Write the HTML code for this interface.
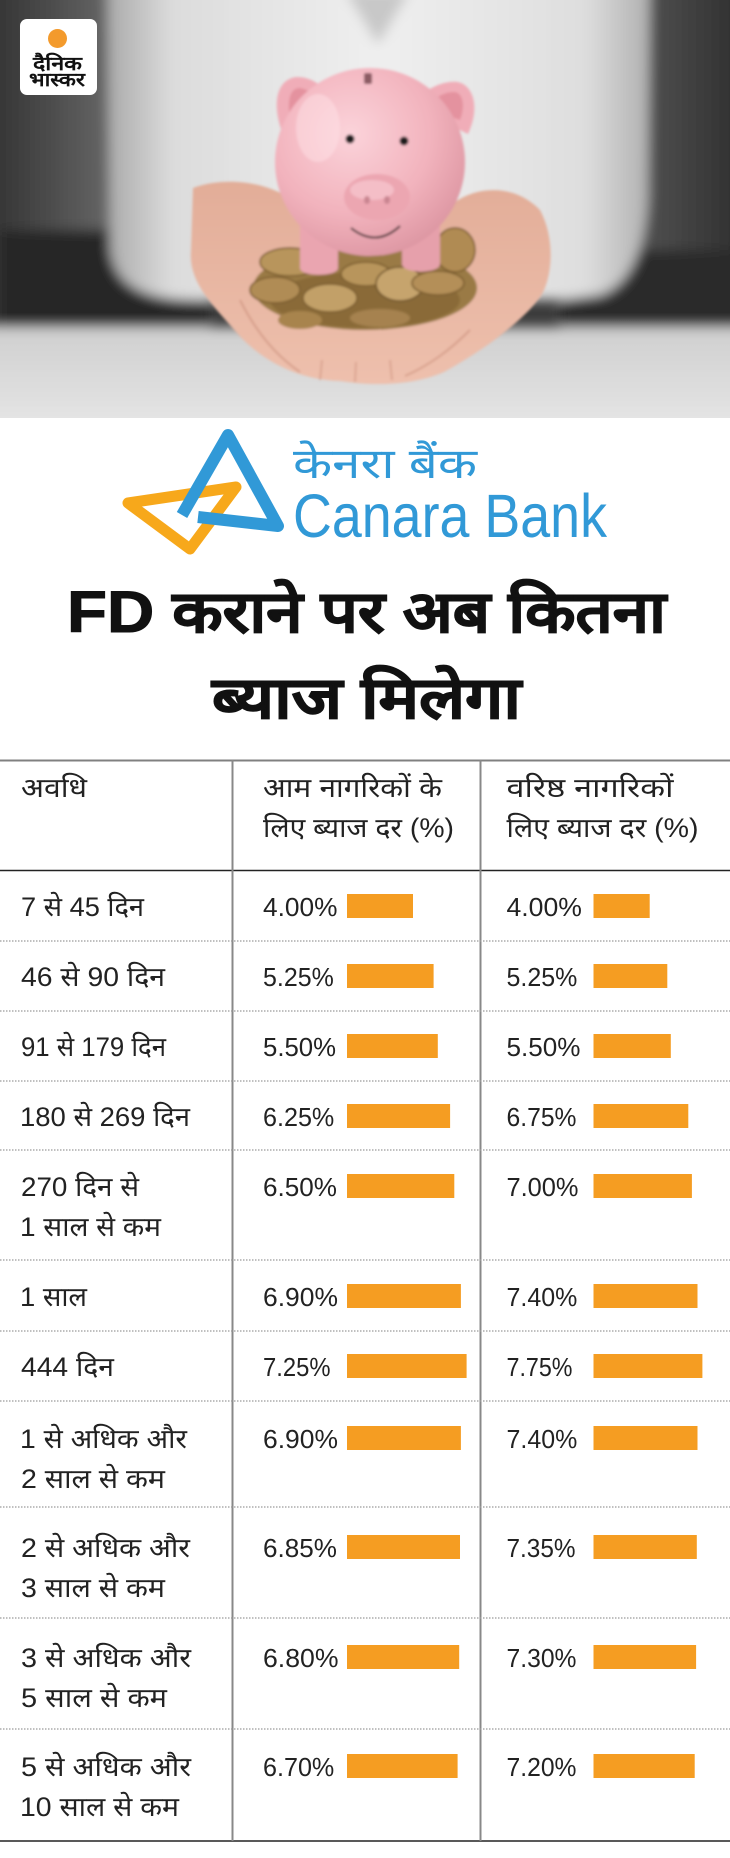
<!DOCTYPE html>
<html><head><meta charset="utf-8"><style>
html,body{margin:0;padding:0;background:#fff;}
svg{display:block;}
text{font-family:"Liberation Sans",sans-serif;}
</style></head><body>
<svg width="730" height="1858" viewBox="0 0 730 1858" xmlns="http://www.w3.org/2000/svg">
<defs>
<linearGradient id="bgL" x1="0" y1="0" x2="1" y2="0">
<stop offset="0" stop-color="#2e2e2e"/><stop offset="1" stop-color="#6a6a6a"/></linearGradient>
<linearGradient id="bgR" x1="0" y1="0" x2="1" y2="0">
<stop offset="0" stop-color="#555"/><stop offset="1" stop-color="#2c2c2c"/></linearGradient>
<linearGradient id="shirt" x1="0" y1="0" x2="1" y2="0">
<stop offset="0" stop-color="#a9a9a9"/><stop offset="0.12" stop-color="#dcdcdc"/><stop offset="0.5" stop-color="#efefef"/><stop offset="0.88" stop-color="#dedede"/><stop offset="1" stop-color="#b0b0b0"/></linearGradient>
<linearGradient id="table" x1="0" y1="0" x2="0" y2="1">
<stop offset="0" stop-color="#cfcfcf"/><stop offset="1" stop-color="#e8e8e8"/></linearGradient>
<linearGradient id="skin" x1="0" y1="0" x2="0" y2="1">
<stop offset="0" stop-color="#e2ad98"/><stop offset="1" stop-color="#eec0ad"/></linearGradient>
<radialGradient id="pig" cx="0.4" cy="0.35" r="0.7">
<stop offset="0" stop-color="#fbd3da"/><stop offset="0.6" stop-color="#f2b3bd"/><stop offset="1" stop-color="#dc95a1"/></radialGradient>
<filter id="bl" x="-5%" y="-5%" width="110%" height="110%"><feGaussianBlur stdDeviation="6"/></filter>
<filter id="bl2"><feGaussianBlur stdDeviation="1.2"/></filter>
<clipPath id="ph"><rect x="0" y="0" width="730" height="418"/></clipPath>
</defs>

<!-- PHOTO -->
<g clip-path="url(#ph)">
<rect x="0" y="0" width="730" height="418" fill="#3a3a3a"/>
<g filter="url(#bl)">
<rect x="-20" y="-20" width="140" height="360" fill="url(#bgL)"/>
<rect x="0" y="230" width="210" height="110" fill="#262626"/>
<rect x="630" y="-20" width="120" height="360" fill="url(#bgR)"/>
<rect x="560" y="250" width="190" height="90" fill="#2b2b2b"/>
<path d="M107,-20 L650,-20 L648,200 C645,250 630,285 600,295 L560,300 L200,300 C150,300 115,290 110,250 Z" fill="url(#shirt)"/>
<path d="M345,-10 L410,-10 L378,45 Z" fill="#c8c8c8"/>
<rect x="-20" y="327" width="770" height="110" fill="url(#table)"/>
</g>
<!-- hands -->
<g filter="url(#bl2)">
<path d="M193,188 C225,176 268,182 292,200 L455,202 C478,186 515,184 540,210 C556,240 552,278 541,296 C522,322 484,350 444,372 C412,386 372,386 340,381 C300,380 262,362 236,332 C212,304 188,282 191,250 Z" fill="url(#skin)"/>
<path d="M240,300 C255,330 275,355 300,372" stroke="#c98c78" stroke-width="2" fill="none" opacity="0.6"/>
<path d="M470,330 C450,350 430,365 405,376" stroke="#c98c78" stroke-width="2" fill="none" opacity="0.6"/>
<path d="M320,380 L322,360 M355,382 L356,362 M392,380 L390,360" stroke="#cf9582" stroke-width="2" fill="none" opacity="0.6"/>
<!-- coins -->
<ellipse cx="365" cy="288" rx="112" ry="42" fill="#9a7a45"/>
<ellipse cx="365" cy="300" rx="95" ry="28" fill="#8a6a38"/>
<ellipse cx="290" cy="262" rx="30" ry="14" fill="#b8955c" stroke="#7a5c2e" stroke-width="1.5"/>
<ellipse cx="275" cy="290" rx="25" ry="13" fill="#b08c55" stroke="#7a5c2e" stroke-width="1.5"/>
<ellipse cx="330" cy="298" rx="27" ry="14" fill="#c2a068" stroke="#7a5c2e" stroke-width="1.5"/>
<ellipse cx="366" cy="274" rx="25" ry="12" fill="#b8955c" stroke="#7a5c2e" stroke-width="1.5"/>
<ellipse cx="400" cy="284" rx="24" ry="17" fill="#c6a46d" stroke="#6f5229" stroke-width="1.5"/>
<ellipse cx="438" cy="283" rx="26" ry="12" fill="#b48f58" stroke="#7a5c2e" stroke-width="1.5"/>
<ellipse cx="455" cy="250" rx="20" ry="22" fill="#b08b52" stroke="#7a5c2e" stroke-width="1.5"/>
<ellipse cx="300" cy="320" rx="22" ry="9" fill="#a8844d"/>
<ellipse cx="380" cy="318" rx="30" ry="9" fill="#a68250"/>
<!-- pig -->
<path d="M282,132 C272,104 276,80 296,77 C316,76 332,94 338,108 Z" fill="#f0adb8"/>
<path d="M290,118 C287,100 290,88 300,88 C312,90 320,100 324,108 Z" fill="#e4929f"/>
<path d="M468,134 C480,108 474,86 458,82 C438,80 420,94 410,106 Z" fill="#f0adb8"/>
<path d="M460,120 C466,104 462,92 454,92 C442,92 432,100 426,108 Z" fill="#e4929f"/>
<path d="M300,222 L338,222 L338,268 C338,277 300,277 300,268 Z" fill="#eaa5b0"/>
<path d="M402,222 L440,222 L440,264 C440,274 402,274 402,264 Z" fill="#e6a0ab"/>
<ellipse cx="370" cy="162" rx="95" ry="94" fill="url(#pig)"/>
<ellipse cx="318" cy="128" rx="22" ry="34" fill="#ffe4e8" opacity="0.45"/>
<rect x="364" y="73" width="8" height="11" rx="2" fill="#8c5c64"/>
<ellipse cx="377" cy="197" rx="33" ry="23" fill="#eca6b1"/>
<ellipse cx="372" cy="190" rx="22" ry="10" fill="#f8c9d0" opacity="0.7"/>
<ellipse cx="367" cy="200" rx="3" ry="4" fill="#c98591"/>
<ellipse cx="387" cy="200" rx="3" ry="4" fill="#c98591"/>
<circle cx="350" cy="139" r="4.5" fill="#1a1a1a"/>
<circle cx="404" cy="141" r="4.5" fill="#1a1a1a"/>
<path d="M351,228 Q376,248 400,226" stroke="#3a2a2a" stroke-width="2" fill="none"/>
</g>
</g>
<!-- Bhaskar logo -->
<rect x="20" y="19" width="77" height="76" rx="7" fill="#fff"/>
<circle cx="57.5" cy="38.5" r="9.5" fill="#f39a2c"/>
<text x="33" y="70" font-size="19" font-weight="700" fill="#111" textLength="49" lengthAdjust="spacingAndGlyphs">दैनिक</text>
<text x="29" y="86" font-size="19" font-weight="700" fill="#111" textLength="56" lengthAdjust="spacingAndGlyphs">भास्कर</text>

<!-- Canara logo -->
<polygon points="128,503 236,487 190,549" fill="none" stroke="#f7a81b" stroke-width="11" stroke-linejoin="round"/>
<path d="M182,515 L228,435 L278,526 L198,517" fill="none" stroke="#3199d7" stroke-width="12" stroke-linejoin="round"/>
<text x="293" y="478" font-size="42" fill="#3199d7" textLength="184" lengthAdjust="spacingAndGlyphs">केनरा बैंक</text>
<text x="293" y="537" font-size="61" fill="#3199d7" textLength="314" lengthAdjust="spacingAndGlyphs">Canara Bank</text>

<!-- Title -->
<text x="67" y="632" font-size="58" font-weight="700" fill="#111" stroke="#111" stroke-width="1" textLength="599" lengthAdjust="spacingAndGlyphs">FD कराने पर अब कितना</text>
<text x="212" y="718" font-size="58" font-weight="700" fill="#111" stroke="#111" stroke-width="1" textLength="309" lengthAdjust="spacingAndGlyphs">ब्याज मिलेगा</text>

<!-- Table lines -->
<line x1="0" y1="760.5" x2="730" y2="760.5" stroke="#808080" stroke-width="2"/>
<line x1="0" y1="870.5" x2="730" y2="870.5" stroke="#222" stroke-width="1.5"/>
<line x1="0" y1="1841" x2="730" y2="1841" stroke="#222" stroke-width="1.5"/>
<line x1="232.5" y1="760" x2="232.5" y2="1841" stroke="#888" stroke-width="2"/>
<line x1="480.5" y1="760" x2="480.5" y2="1841" stroke="#888" stroke-width="2"/>
<g stroke="#9a9a9a" stroke-width="1.2" stroke-dasharray="1.5,1.5">
<line x1="0" y1="941" x2="730" y2="941"/>
<line x1="0" y1="1011" x2="730" y2="1011"/>
<line x1="0" y1="1081" x2="730" y2="1081"/>
<line x1="0" y1="1150" x2="730" y2="1150"/>
<line x1="0" y1="1260" x2="730" y2="1260"/>
<line x1="0" y1="1331" x2="730" y2="1331"/>
<line x1="0" y1="1401" x2="730" y2="1401"/>
<line x1="0" y1="1507" x2="730" y2="1507"/>
<line x1="0" y1="1618" x2="730" y2="1618"/>
<line x1="0" y1="1729" x2="730" y2="1729"/>
</g>

<!-- Header -->
<g font-size="27" fill="#222">
<text x="21" y="797" textLength="66" lengthAdjust="spacingAndGlyphs">अवधि</text>
<text x="263" y="797" textLength="179" lengthAdjust="spacingAndGlyphs">आम नागरिकों के</text>
<text x="263" y="837" textLength="191" lengthAdjust="spacingAndGlyphs">लिए ब्याज दर (%)</text>
<text x="506.5" y="797" textLength="167" lengthAdjust="spacingAndGlyphs">वरिष्ठ नागरिकों</text>
<text x="506.5" y="837" textLength="192" lengthAdjust="spacingAndGlyphs">लिए ब्याज दर (%)</text>
</g>

<!-- Rows -->
<g font-size="27" fill="#222">
<text x="21" y="916" textLength="123" lengthAdjust="spacingAndGlyphs">7 से 45 दिन</text>
<text x="21" y="986" textLength="144" lengthAdjust="spacingAndGlyphs">46 से 90 दिन</text>
<text x="21" y="1056" textLength="145" lengthAdjust="spacingAndGlyphs">91 से 179 दिन</text>
<text x="20" y="1126" textLength="170" lengthAdjust="spacingAndGlyphs">180 से 269 दिन</text>
<text x="21" y="1196" textLength="118" lengthAdjust="spacingAndGlyphs">270 दिन से</text>
<text x="20" y="1236" textLength="141" lengthAdjust="spacingAndGlyphs">1 साल से कम</text>
<text x="20" y="1306" textLength="67" lengthAdjust="spacingAndGlyphs">1 साल</text>
<text x="21" y="1376" textLength="93" lengthAdjust="spacingAndGlyphs">444 दिन</text>
<text x="20" y="1448" textLength="167" lengthAdjust="spacingAndGlyphs">1 से अधिक और</text>
<text x="21" y="1488" textLength="144" lengthAdjust="spacingAndGlyphs">2 साल से कम</text>
<text x="21" y="1557" textLength="169" lengthAdjust="spacingAndGlyphs">2 से अधिक और</text>
<text x="21" y="1597" textLength="144" lengthAdjust="spacingAndGlyphs">3 साल से कम</text>
<text x="21" y="1667" textLength="170" lengthAdjust="spacingAndGlyphs">3 से अधिक और</text>
<text x="21" y="1707" textLength="146" lengthAdjust="spacingAndGlyphs">5 साल से कम</text>
<text x="21" y="1776" textLength="170" lengthAdjust="spacingAndGlyphs">5 से अधिक और</text>
<text x="20" y="1816" textLength="159" lengthAdjust="spacingAndGlyphs">10 साल से कम</text>
</g>

<!-- Percent col2 -->
<g font-size="26" fill="#222">
<text x="263" y="916" textLength="74.5" lengthAdjust="spacingAndGlyphs">4.00%</text>
<text x="263" y="986" textLength="70.8" lengthAdjust="spacingAndGlyphs">5.25%</text>
<text x="263" y="1056" textLength="73" lengthAdjust="spacingAndGlyphs">5.50%</text>
<text x="263" y="1126" textLength="71.3" lengthAdjust="spacingAndGlyphs">6.25%</text>
<text x="263" y="1196" textLength="74" lengthAdjust="spacingAndGlyphs">6.50%</text>
<text x="263" y="1306" textLength="75" lengthAdjust="spacingAndGlyphs">6.90%</text>
<text x="263" y="1376" textLength="67.5" lengthAdjust="spacingAndGlyphs">7.25%</text>
<text x="263" y="1448" textLength="75" lengthAdjust="spacingAndGlyphs">6.90%</text>
<text x="263" y="1557" textLength="74" lengthAdjust="spacingAndGlyphs">6.85%</text>
<text x="263" y="1667" textLength="75.5" lengthAdjust="spacingAndGlyphs">6.80%</text>
<text x="263" y="1776" textLength="71.3" lengthAdjust="spacingAndGlyphs">6.70%</text>
</g>
<!-- Percent col3 -->
<g font-size="26" fill="#222">
<text x="506.5" y="916" textLength="75.4" lengthAdjust="spacingAndGlyphs">4.00%</text>
<text x="506.5" y="986" textLength="70.8" lengthAdjust="spacingAndGlyphs">5.25%</text>
<text x="506.5" y="1056" textLength="74" lengthAdjust="spacingAndGlyphs">5.50%</text>
<text x="506.5" y="1126" textLength="70" lengthAdjust="spacingAndGlyphs">6.75%</text>
<text x="506.5" y="1196" textLength="72" lengthAdjust="spacingAndGlyphs">7.00%</text>
<text x="506.5" y="1306" textLength="70.8" lengthAdjust="spacingAndGlyphs">7.40%</text>
<text x="506.5" y="1376" textLength="66" lengthAdjust="spacingAndGlyphs">7.75%</text>
<text x="506.5" y="1448" textLength="70.8" lengthAdjust="spacingAndGlyphs">7.40%</text>
<text x="506.5" y="1557" textLength="69" lengthAdjust="spacingAndGlyphs">7.35%</text>
<text x="506.5" y="1667" textLength="70" lengthAdjust="spacingAndGlyphs">7.30%</text>
<text x="506.5" y="1776" textLength="70" lengthAdjust="spacingAndGlyphs">7.20%</text>
</g>

<!-- Bars -->
<g fill="#f59d22">
<rect x="347" y="894" width="66" height="24"/>
<rect x="347" y="964" width="86.6" height="24"/>
<rect x="347" y="1034" width="90.8" height="24"/>
<rect x="347" y="1104" width="103.1" height="24"/>
<rect x="347" y="1174" width="107.3" height="24"/>
<rect x="347" y="1284" width="113.9" height="24"/>
<rect x="347" y="1354" width="119.6" height="24"/>
<rect x="347" y="1426" width="113.9" height="24"/>
<rect x="347" y="1535" width="113" height="24"/>
<rect x="347" y="1645" width="112.2" height="24"/>
<rect x="347" y="1754" width="110.6" height="24"/>

<rect x="593.5" y="894" width="56.2" height="24"/>
<rect x="593.5" y="964" width="73.8" height="24"/>
<rect x="593.5" y="1034" width="77.3" height="24"/>
<rect x="593.5" y="1104" width="94.8" height="24"/>
<rect x="593.5" y="1174" width="98.4" height="24"/>
<rect x="593.5" y="1284" width="104" height="24"/>
<rect x="593.5" y="1354" width="108.9" height="24"/>
<rect x="593.5" y="1426" width="104" height="24"/>
<rect x="593.5" y="1535" width="103.3" height="24"/>
<rect x="593.5" y="1645" width="102.6" height="24"/>
<rect x="593.5" y="1754" width="101.2" height="24"/>
</g>
</svg>
</body></html>
